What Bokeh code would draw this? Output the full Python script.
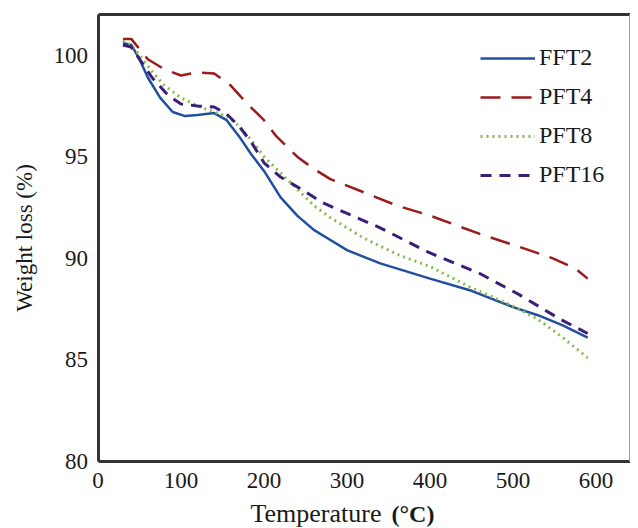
from bokeh.plotting import figure
from bokeh.models import Range1d, Legend, LegendItem, Label, FixedTicker, LinearAxis
from bokeh.embed import file_html
from bokeh.resources import INLINE

# ---- data ----
fft2_t = [30, 40, 50, 60, 75, 90, 105, 120, 140, 155, 170, 185, 200, 220, 240, 260, 280, 300, 340, 400, 450, 500, 530, 560, 590]
fft2_w = [100.6, 100.5, 99.8, 98.9, 97.9, 97.2, 97.0, 97.05, 97.15, 96.8, 96.0, 95.1, 94.3, 93.0, 92.1, 91.4, 90.9, 90.4, 89.75, 89.0, 88.4, 87.6, 87.2, 86.7, 86.1]

pft4_t = [30, 40, 50, 60, 80, 100, 120, 140, 160, 180, 200, 215, 240, 260, 280, 320, 360, 400, 460, 505, 548, 575, 590]
pft4_w = [100.8, 100.8, 100.3, 99.8, 99.3, 99.0, 99.15, 99.1, 98.5, 97.6, 96.8, 96.0, 95.0, 94.4, 93.9, 93.25, 92.6, 92.1, 91.2, 90.6, 90.0, 89.5, 89.0]

pft8_t = [30, 40, 50, 65, 80, 100, 120, 140, 155, 170, 185, 200, 220, 240, 260, 280, 320, 360, 400, 450, 500, 530, 560, 590]
pft8_w = [100.7, 100.5, 100.0, 99.2, 98.5, 97.9, 97.5, 97.2, 97.0, 96.5, 95.8, 95.0, 94.2, 93.4, 92.6, 92.0, 91.0, 90.2, 89.6, 88.55, 87.65, 87.0, 86.1, 85.1]

pft16_t = [30, 40, 50, 65, 85, 100, 120, 140, 155, 170, 185, 200, 220, 247, 270, 295, 340, 398, 460, 508, 557, 590]
pft16_w = [100.5, 100.4, 99.8, 98.9, 98.0, 97.6, 97.5, 97.45, 97.1, 96.5, 95.7, 94.7, 94.0, 93.35, 92.75, 92.3, 91.5, 90.3, 89.25, 88.2, 87.0, 86.3]

x_ticks = [0, 100, 200, 300, 400, 500, 600]
y_ticks = [80, 85, 90, 95, 100]
series_names = ["FFT2", "PFT4", "PFT8", "PFT16"]

X_MIN, X_BOX, X_END = 0, 640.4, 641.6
Y_MIN, Y_MAX = 80, 102
SERIF = "Liberation Serif"
DARK = "#333333"

# the frame fills the whole canvas; the axes are pinned at the box edges
p = figure(width=630, height=528, output_backend="svg", toolbar_location=None,
           x_range=Range1d(-117.5, X_END), y_range=Range1d(76.702, 102.689),
           min_border=0, min_border_left=0, min_border_right=0, min_border_top=0, min_border_bottom=0)

p.background_fill_color = "white"
p.border_fill_color = "white"
p.outline_line_color = None
p.grid.visible = False

xa, ya = p.xaxis[0], p.yaxis[0]
xa.fixed_location = Y_MIN
ya.fixed_location = X_MIN
xa.bounds = (X_MIN, X_END)
ya.bounds = (Y_MIN, Y_MAX)
for ax in (xa, ya):
    ax.axis_line_color = DARK
    ax.axis_line_width = 3
    ax.major_tick_line_color = None
    ax.minor_tick_line_color = None
    ax.major_tick_out = 0
    ax.major_tick_in = 0
    ax.major_label_text_font = SERIF
    ax.major_label_text_font_size = "23px"
    ax.major_label_text_color = "#1a1a1a"
ya.major_label_standoff = 10
xa.major_label_standoff = 12

xa.ticker = FixedTicker(ticks=x_ticks)
ya.ticker = FixedTicker(ticks=y_ticks)
ya.axis_label = "Weight loss (%)"
ya.axis_label_text_font = SERIF
ya.axis_label_text_font_style = "normal"
ya.axis_label_text_font_size = "23px"
ya.axis_label_text_color = "#1a1a1a"
ya.axis_label_standoff = 14

# top (thick) and right (thin) borders of the box
top_ax = LinearAxis(fixed_location=Y_MAX, bounds=(X_MIN, X_END), ticker=FixedTicker(ticks=[]),
                    axis_line_color=DARK, axis_line_width=3, major_tick_line_color=None,
                    minor_tick_line_color=None, major_label_text_font_size="0px")
p.add_layout(top_ax, "above")
right_ax = LinearAxis(fixed_location=X_BOX, bounds=(Y_MIN, Y_MAX), ticker=FixedTicker(ticks=[]),
                      axis_line_color="#9a9a9a", axis_line_width=1, major_tick_line_color=None,
                      minor_tick_line_color=None, major_label_text_font_size="0px")
p.add_layout(right_ax, "right")

r1 = p.line(fft2_t, fft2_w, line_color="#1f4f9e", line_width=2.5)
r2 = p.line(pft4_t, pft4_w, line_color="#9b1b1b", line_width=2.5, line_dash="20 11")
r3 = p.line(pft8_t, pft8_w, line_color="#86bc4c", line_width=3, line_dash="2 4")
r4 = p.line(pft16_t, pft16_w, line_color="#3a1f78", line_width=3, line_dash="11 8")

legend = Legend(items=[LegendItem(label=n, renderers=[r]) for n, r in zip(series_names, [r1, r2, r3, r4])],
                location=(480, 340), padding=2, spacing=12,
                glyph_width=55, glyph_height=20, label_height=20, label_standoff=4,
                label_text_font=SERIF, label_text_font_size="24px", label_text_color="#1a1a1a",
                border_line_color=None, background_fill_alpha=0)
p.add_layout(legend)

p.add_layout(Label(x=183.7, y=77.44, text="Temperature", text_font=SERIF, text_font_size="26px",
                   text_color="#1a1a1a", text_baseline="alphabetic"))
p.add_layout(Label(x=353.6, y=77.44, text="(°C)", text_font=SERIF, text_font_size="24px",
                   text_font_style="bold", text_color="#1a1a1a", text_baseline="alphabetic"))

open("out.html", "w").write(file_html(p, INLINE))
